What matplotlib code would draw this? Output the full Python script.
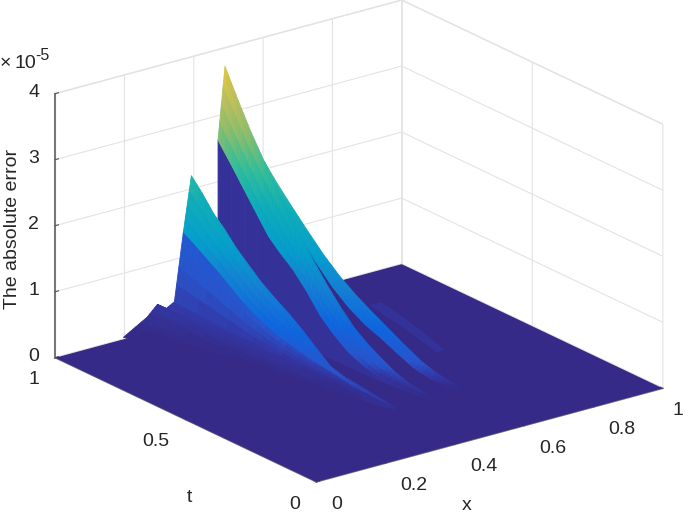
import numpy as np
import matplotlib
matplotlib.use('Agg')
import matplotlib.pyplot as plt
from matplotlib.colors import LinearSegmentedColormap

plt.rcParams['font.family'] = ['Liberation Sans', 'DejaVu Sans']

# all heights are in units of 1e-5
t_rows = [1.0, 0.96, 0.92, 0.88, 0.84, 0.8, 0.75, 0.7, 0.65, 0.6, 0.55, 0.5, 0.45, 0.4, 0.35, 0.3, 0.25]

# front ridge
a_right_x = [0.393, 0.395, 0.397, 0.399, 0.401, 0.403, 0.406, 0.409, 0.411, 0.414, 0.416, 0.419, 0.422, 0.424, 0.427, 0.429, 0.432]
a_right_z = [2.2, 2.0, 1.77, 1.6, 1.4, 1.24, 1.04, 0.88, 0.74, 0.57, 0.39, 0.21, 0.14, 0.11, 0.07, 0.04, 0.0]
a_left_x = [0.37, 0.372, 0.374, 0.376, 0.378, 0.38, 0.383, 0.386, 0.388, 0.391, 0.393, 0.396, 0.399, 0.401, 0.404, 0.412, 0.432]
a_left_z = [1.38, 1.27, 1.15, 1.03, 0.9, 0.76, 0.61, 0.5, 0.41, 0.35, 0.29, 0.25, 0.21, 0.16, 0.14, 0.09, 0.0]

# tall ridge
b_right_x = [0.49, 0.4977, 0.505, 0.513, 0.5145, 0.516, 0.518, 0.52, 0.522, 0.524, 0.526, 0.527, 0.528, 0.529, 0.53, 0.531, 0.532]
b_right_z = [3.72, 3.27, 2.85, 2.47, 2.2, 1.93, 1.59, 1.29, 1.01, 0.76, 0.54, 0.39, 0.27, 0.16, 0.09, 0.06, 0.01]
b_left_x = [0.47, 0.478, 0.485, 0.493, 0.495, 0.496, 0.498, 0.5, 0.502, 0.504, 0.506, 0.507, 0.508, 0.512, 0.518, 0.525, 0.532]
b_left_z = [2.63, 2.32, 2.01, 1.69, 1.44, 1.28, 1.1, 0.86, 0.58, 0.38, 0.22, 0.13, 0.06, 0.03, 0.02, 0.01, 0.0]

# strip behind the tall ridge, starts lower down
c_t = [0.88, 0.84, 0.8, 0.75, 0.7, 0.65, 0.6, 0.55, 0.5, 0.45, 0.4, 0.35, 0.3, 0.25]
c_right_x = [0.5128, 0.5204, 0.528, 0.5375, 0.547, 0.5565, 0.566, 0.5755, 0.585, 0.5945, 0.604, 0.6135, 0.623, 0.6325]
c_right_z = [2.47, 2.2, 1.95, 1.65, 1.36, 1.11, 0.9, 0.72, 0.55, 0.38, 0.22, 0.11, 0.04, 0.0]
c_left_x = [0.513, 0.505, 0.51, 0.518, 0.527, 0.5365, 0.546, 0.5555, 0.565, 0.5745, 0.584, 0.5935, 0.605, 0.6325]
c_left_z = [2.47, 2.15, 1.89, 1.58, 1.26, 0.97, 0.74, 0.56, 0.43, 0.28, 0.14, 0.06, 0.02, 0.0]

# low terraces left of the front ridge
foot_t = [1.0, 0.92, 0.84, 0.75, 0.65, 0.55, 0.45, 0.35]
foot_x = [
    [0.197, 0.266, 0.295, 0.32, 0.344, 0.37],
    [0.23, 0.285, 0.31, 0.33, 0.35, 0.374],
    [0.26, 0.30, 0.325, 0.34, 0.356, 0.378],
    [0.285, 0.32, 0.34, 0.35, 0.362, 0.383],
    [0.30, 0.335, 0.35, 0.36, 0.368, 0.388],
    [0.315, 0.345, 0.36, 0.37, 0.375, 0.393],
    [0.33, 0.36, 0.37, 0.378, 0.385, 0.399],
    [0.345, 0.37, 0.38, 0.385, 0.395, 0.404],
]
foot_z = [
    [0.03, 0.24, 0.39, 0.29, 0.36, 1.38],
    [0.0, 0.2, 0.33, 0.26, 0.32, 1.15],
    [0.0, 0.16, 0.27, 0.22, 0.28, 0.9],
    [0.0, 0.12, 0.2, 0.18, 0.24, 0.61],
    [0.0, 0.08, 0.14, 0.14, 0.2, 0.41],
    [0.0, 0.05, 0.1, 0.1, 0.16, 0.29],
    [0.0, 0.03, 0.06, 0.07, 0.12, 0.21],
    [0.0, 0.01, 0.02, 0.03, 0.07, 0.14],
]
foot_level = [
    [0.0, 0.01, 0.02, 0.02, 0.025, 0.08],
    [0.0, 0.01, 0.02, 0.02, 0.025, 0.075],
    [0.0, 0.008, 0.018, 0.018, 0.022, 0.07],
    [0.0, 0.006, 0.015, 0.016, 0.02, 0.06],
    [0.0, 0.004, 0.012, 0.014, 0.016, 0.05],
    [0.0, 0.003, 0.008, 0.01, 0.012, 0.04],
    [0.0, 0.001, 0.005, 0.006, 0.008, 0.03],
    [0.0, 0.0, 0.002, 0.003, 0.005, 0.02],
]

# faint streak on the floor behind the ridges
streak_t = [0.8, 0.7, 0.6, 0.5]
streak_left_x = [0.76, 0.75, 0.74, 0.725]
streak_right_x = [0.79, 0.78, 0.765, 0.745]
streak_z = [0.09, 0.06, 0.03, 0.0]

x_ticks = [0, 0.2, 0.4, 0.6, 0.8, 1]
x_tick_labels = ['0', '0.2', '0.4', '0.6', '0.8', '1']
t_ticks = [0, 0.5, 1]
t_tick_labels = ['0', '0.5', '1']
z_ticks = [0, 1, 2, 3, 4]

parula = LinearSegmentedColormap.from_list('parula', [
    (0.0, (0.208, 0.165, 0.529)),
    (0.02, (0.2, 0.22, 0.65)),
    (0.05, (0.16, 0.33, 0.80)),
    (0.14, (0.06, 0.40, 0.87)),
    (0.25, (0.08, 0.50, 0.83)),
    (0.36, (0.02, 0.62, 0.80)),
    (0.5, (0.06, 0.68, 0.72)),
    (0.62, (0.2, 0.74, 0.6)),
    (0.75, (0.55, 0.74, 0.42)),
    (0.87, (0.74, 0.75, 0.36)),
    (0.95, (0.85, 0.78, 0.27)),
    (1.0, (0.976, 0.984, 0.055)),
])
z_top = 3.75
shade_steps = 4


def shade_split(a, n):
    # split every cell n times, same job as MATLAB's shading interp
    a = np.asarray(a, dtype=float)
    r, c = a.shape
    rows = np.linspace(0, r - 1, (r - 1) * n + 1)
    cols = np.linspace(0, c - 1, (c - 1) * n + 1)
    a = np.column_stack([np.interp(rows, np.arange(r), a[:, j]) for j in range(c)])
    return np.vstack([np.interp(cols, np.arange(c), row) for row in a])


def sheet(ax, x, t, z, levels, order, steps=shade_steps):
    # levels has one value per corner of the mesh
    x, t, z, lv = [shade_split(a, steps) for a in (x, t, z, levels)]
    cell = np.zeros(z.shape)
    cell[:-1, :-1] = (lv[:-1, :-1] + lv[1:, :-1] + lv[:-1, 1:] + lv[1:, 1:]) / 4
    ax.plot_surface(x, t, z, rstride=1, cstride=1, facecolors=parula(cell), shade=False,
                    linewidth=0.6, antialiased=True, zorder=order)


def strip(ax, t, left_x, right_x, left_z, right_z, order):
    x = np.column_stack([left_x, right_x])
    tt = np.column_stack([t, t])
    z = np.column_stack([left_z, right_z])
    sheet(ax, x, tt, z, z / z_top, order)


def wall(ax, t, left_x, left_z, level, order):
    x = np.column_stack([left_x, left_x])
    tt = np.column_stack([t, t])
    z = np.column_stack([np.zeros(len(t)), left_z])
    sheet(ax, x, tt, z, np.full(z.shape, level), order, steps=1)


fig = plt.figure(figsize=(6.85, 5.13), dpi=100)
# axes much larger than the figure, 3d artists get clipped to this box otherwise
ax = fig.add_axes([-51.8 / 685, -138.8 / 513, 800 / 685, 800 / 513], projection='3d', computed_zorder=False)
ax.set_proj_type('ortho')
ax.view_init(elev=21, azim=-127)
ax.set_box_aspect((1, 1, 0.652), zoom=0.82)
ax.set_xlim(0, 1, view_margin=0)
ax.set_ylim(0, 1, view_margin=0)
ax.set_zlim(0, 4, view_margin=0)

floor_x, floor_t = np.meshgrid([0, 1], [0, 1])
ax.plot_surface(floor_x, floor_t, np.zeros((2, 2)), color=parula(0.0), shade=False, linewidth=0.3, zorder=1)
sheet(ax, np.column_stack([streak_left_x, streak_right_x]), np.column_stack([streak_t, streak_t]),
      np.column_stack([streak_z, streak_z]), np.full((4, 2), 0.012), 2)
wall(ax, c_t, c_left_x, c_left_z, 0.003, 3)
strip(ax, c_t, c_left_x, c_right_x, c_left_z, c_right_z, 4)
wall(ax, t_rows, b_left_x, b_left_z, 0.015, 5)
strip(ax, t_rows, b_left_x, b_right_x, b_left_z, b_right_z, 6)
wall(ax, t_rows, a_left_x, a_left_z, 0.01, 7)
sheet(ax, foot_x, np.tile(np.array(foot_t)[:, None], (1, 6)), foot_z, foot_level, 8)
strip(ax, t_rows, a_left_x, a_right_x, a_left_z, a_right_z, 9)

ax.set_xticks(x_ticks)
ax.set_yticks(t_ticks)
ax.set_zticks(z_ticks)
ax.tick_params(color='#555555', width=0.8)

for axis in (ax.xaxis, ax.yaxis, ax.zaxis):
    axis.set_pane_color((1, 1, 1, 1))
    axis.pane.set_edgecolor('#e3e3e3')
    axis._axinfo['grid'].update(color='#e3e3e3', linewidth=0.8)
    axis._axinfo['tick'].update(inward_factor=0, outward_factor=0.12)
    axis.line.set_color('#777777')
    axis.line.set_linewidth(1.0)
    axis.set_ticklabels([])
    for tick in axis.get_major_ticks():
        tick.label1.set_visible(False)
        tick.label2.set_visible(False)
    axis.label.set_visible(False)
    axis.offsetText.set_visible(False)
ax.zaxis.line.set_linewidth(1.5)

# tick labels go in by hand, the 3d axis can't offset them like MATLAB does
label_style = dict(fontsize=14, color='#262626', va='center')
for v, s in zip(x_ticks, x_tick_labels):
    if v == 1:
        # pulled in a little so the 1 stays inside the figure
        ax.text(v, -0.038, -0.26, s, ha='left', **label_style)
    else:
        ax.text(v, -0.057, -0.23, s, ha='left', **label_style)
for v, s in zip(t_ticks, t_tick_labels):
    ax.text(-0.046, v, -0.27, s, ha='right', **label_style)
for v in z_ticks:
    ax.text(-0.046, 1, v + 0.08, str(v), ha='right', **label_style)

fig.text(13 / 685, 1 - 229 / 513, 'The absolute error', rotation=90, ha='center', va='center', fontsize=14, color='#262626')
fig.text(467 / 685, 1 - 506 / 513, 'x', ha='center', va='center', fontsize=14, color='#262626')
fig.text(189 / 685, 1 - 498 / 513, 't', ha='center', va='center', fontsize=14, color='#262626')
fig.text(0 / 685, 1 - 63.5 / 513, '\u00d7', ha='left', va='center', fontsize=14, color='#262626')
fig.text(15 / 685, 1 - 63.5 / 513, '10', ha='left', va='center', fontsize=14, color='#262626')
fig.text(35 / 685, 1 - 56 / 513, '-5', ha='left', va='center', fontsize=11.5, color='#262626')

fig.savefig('out.png', dpi=100)
